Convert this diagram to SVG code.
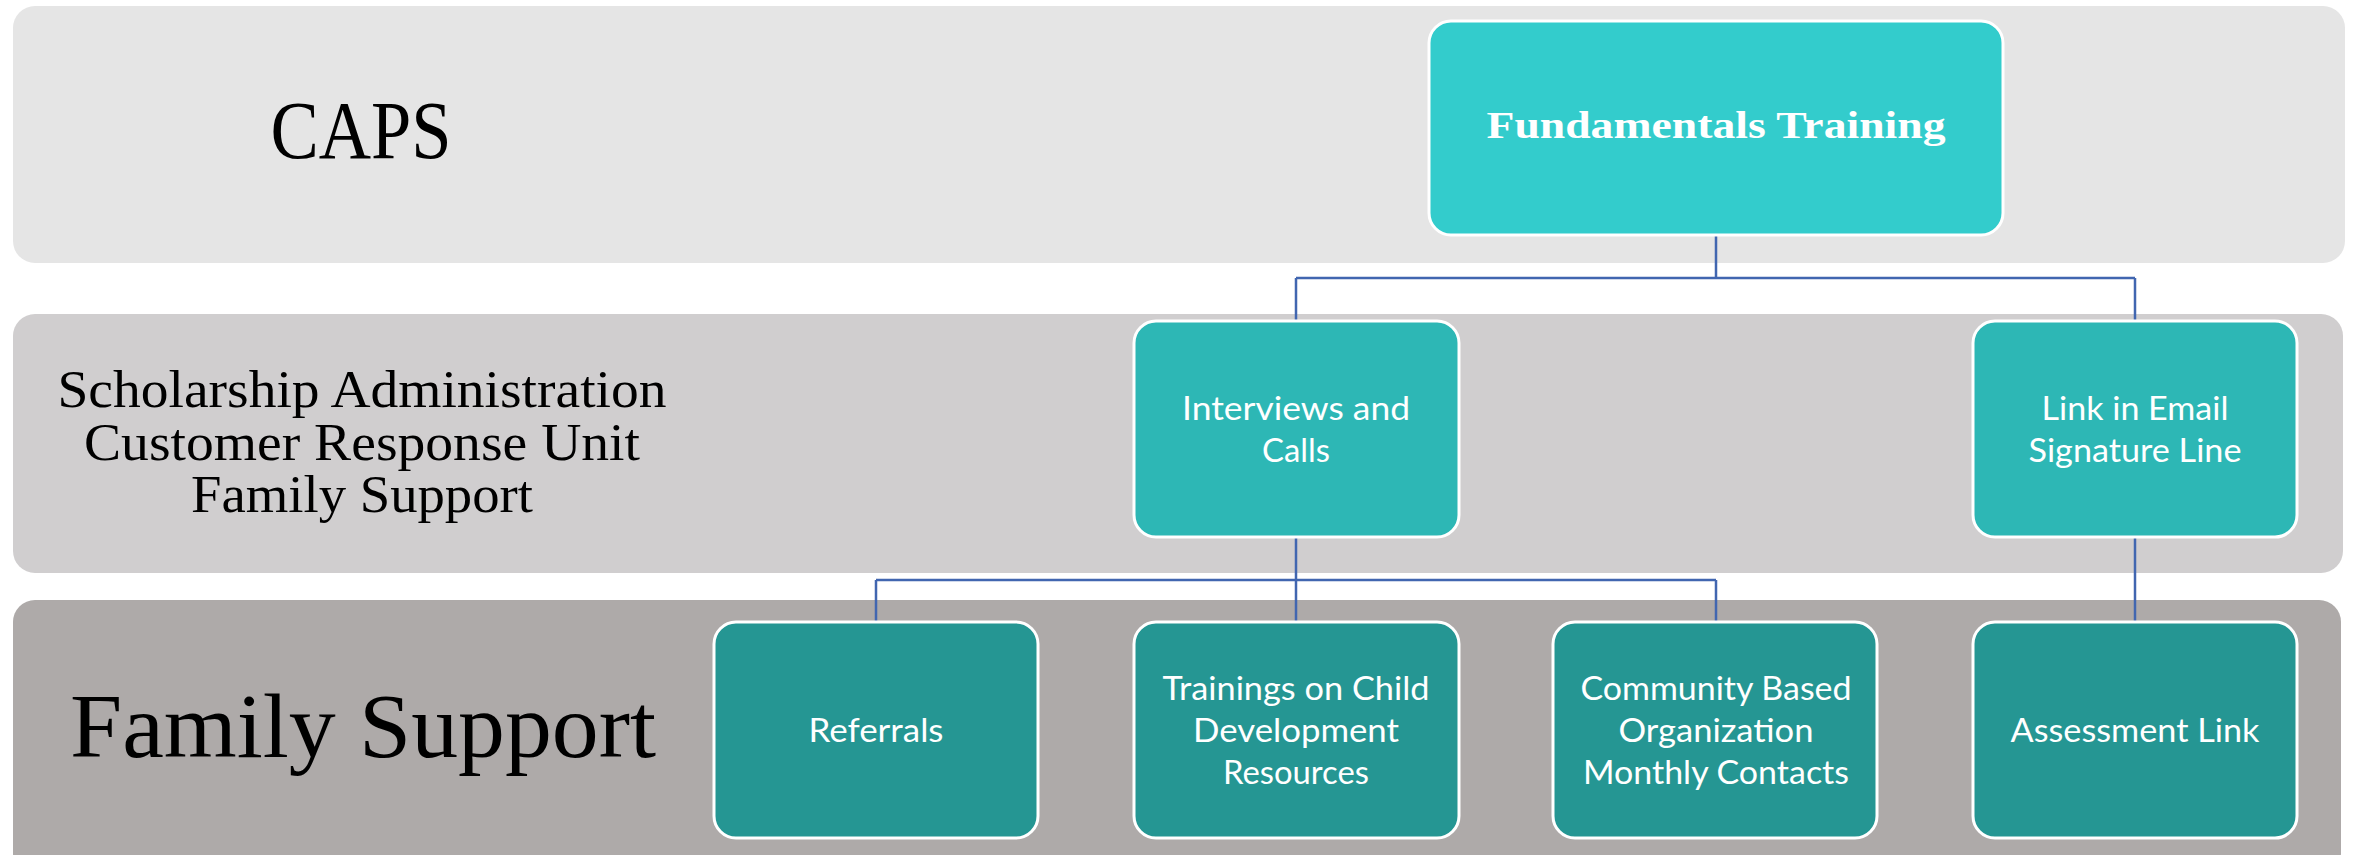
<svg xmlns="http://www.w3.org/2000/svg" width="2362" height="855" viewBox="0 0 2362 855">
<style>
.band1{fill:#e5e5e5}
.band2{fill:#d0cecf}
.band3{fill:#aeaaa9}
.box{stroke:#ffffff;stroke-width:3}
.b1{fill:#33cccc}
.b2{fill:#2db7b5}
.b3{fill:#259693}
.lbl{font-family:"Liberation Serif","Times New Roman",serif;fill:#000000;text-anchor:middle}
.bt{font-family:Lato,"Liberation Sans",sans-serif;font-size:33px;fill:#ffffff;text-anchor:middle}
.ft{font-family:"Liberation Serif","Times New Roman",serif;font-weight:bold;font-size:38px;fill:#ffffff;text-anchor:middle}
.conn{fill:none;stroke:#4166b0;stroke-width:2.5}
</style>
<g id="bands">
<rect class="band1" x="13" y="6" width="2332" height="257" rx="22"/>
<rect class="band2" x="13" y="314" width="2330" height="259" rx="22"/>
<rect class="band3" x="13" y="600" width="2328" height="275" rx="22"/>
</g>
<g id="band-labels">
<text class="lbl" x="361" y="158" font-size="82" textLength="181" lengthAdjust="spacingAndGlyphs">CAPS</text>
<text class="lbl" x="362" y="407" font-size="52" textLength="609" lengthAdjust="spacingAndGlyphs">Scholarship Administration</text>
<text class="lbl" x="362" y="460" font-size="52" textLength="556" lengthAdjust="spacingAndGlyphs">Customer Response Unit</text>
<text class="lbl" x="362" y="512" font-size="52" textLength="342" lengthAdjust="spacingAndGlyphs">Family Support</text>
<text class="lbl" x="363" y="757" font-size="92" textLength="586" lengthAdjust="spacingAndGlyphs">Family Support</text>
</g>
<g id="connectors">
<path class="conn" d="M1716 235 V278 M1296 278 H2135 M1296 278 V321 M2135 278 V321"/>
<path class="conn" d="M1296 537 V580 M876 580 H1716 M876 580 V622 M1296 580 V622 M1716 580 V622"/>
<path class="conn" d="M2135 537 V622"/>
</g>
<g id="node-fundamentals">
<rect class="box b1" x="1429" y="21" width="574" height="214" rx="22"/>
<text class="ft" x="1716" y="138" textLength="459" lengthAdjust="spacingAndGlyphs">Fundamentals Training</text>
</g>
<g id="node-interviews">
<rect class="box b2" x="1134" y="321" width="325" height="216" rx="22"/>
<text class="bt" x="1296" y="420" textLength="228" lengthAdjust="spacingAndGlyphs">Interviews and</text>
<text class="bt" x="1296" y="462" textLength="68" lengthAdjust="spacingAndGlyphs">Calls</text>
</g>
<g id="node-link">
<rect class="box b2" x="1973" y="321" width="324" height="216" rx="22"/>
<text class="bt" x="2135" y="420" textLength="187" lengthAdjust="spacingAndGlyphs">Link in Email</text>
<text class="bt" x="2135" y="462" textLength="213" lengthAdjust="spacingAndGlyphs">Signature Line</text>
</g>
<g id="node-referrals">
<rect class="box b3" x="714" y="622" width="324" height="216" rx="22"/>
<text class="bt" x="876" y="742" textLength="135" lengthAdjust="spacingAndGlyphs">Referrals</text>
</g>
<g id="node-trainings">
<rect class="box b3" x="1134" y="622" width="325" height="216" rx="22"/>
<text class="bt" x="1296" y="700" textLength="267" lengthAdjust="spacingAndGlyphs">Trainings on Child</text>
<text class="bt" x="1296" y="742" textLength="206" lengthAdjust="spacingAndGlyphs">Development</text>
<text class="bt" x="1296" y="784" textLength="146" lengthAdjust="spacingAndGlyphs">Resources</text>
</g>
<g id="node-community">
<rect class="box b3" x="1553" y="622" width="324" height="216" rx="22"/>
<text class="bt" x="1716" y="700" textLength="271" lengthAdjust="spacingAndGlyphs">Community Based</text>
<text class="bt" x="1716" y="742" textLength="195" lengthAdjust="spacingAndGlyphs">Organization</text>
<text class="bt" x="1716" y="784" textLength="266" lengthAdjust="spacingAndGlyphs">Monthly Contacts</text>
</g>
<g id="node-assessment">
<rect class="box b3" x="1973" y="622" width="324" height="216" rx="22"/>
<text class="bt" x="2135" y="742" textLength="249" lengthAdjust="spacingAndGlyphs">Assessment Link</text>
</g>
</svg>
